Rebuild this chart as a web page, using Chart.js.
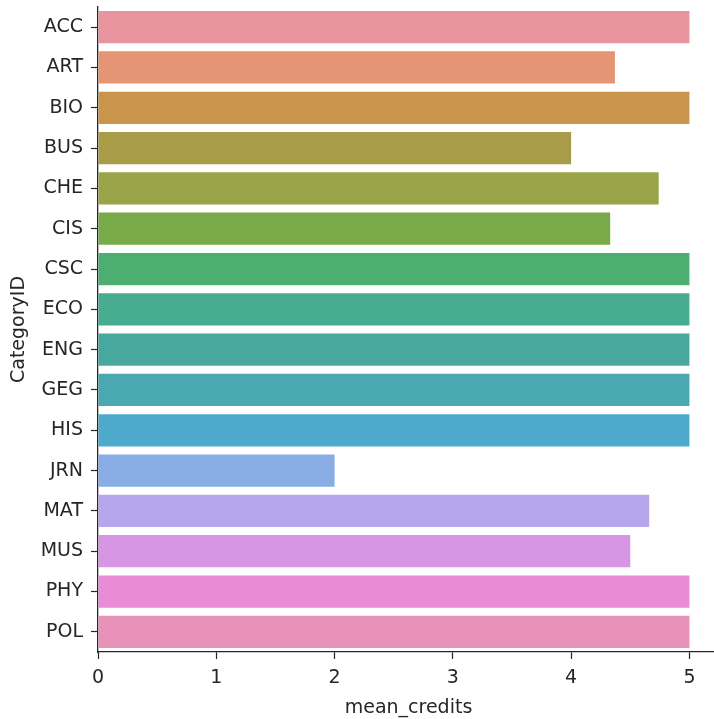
<!DOCTYPE html>
<html>
<head>
<meta charset="utf-8">
<script src="https://cdn.jsdelivr.net/npm/chart.js@4/dist/chart.umd.min.js"></script>
<style>
  html, body { margin: 0; padding: 0; background: #fff; overflow: hidden; }
  #wrap { position: absolute; left: 0; top: 0; width: 719px; height: 719px; }
</style>
</head>
<body>
<div id="wrap"><canvas id="c" width="719" height="719"></canvas></div>
<script>
const categories = ["ACC","ART","BIO","BUS","CHE","CIS","CSC","ECO","ENG","GEG","HIS","JRN","MAT","MUS","PHY","POL"];
const meanCredits = [5, 4.37, 5, 4, 4.74, 4.33, 5, 5, 5, 5, 5, 2, 4.66, 4.5, 5, 5];
const barColors = ["#e8949e","#e69574","#c9944c","#a99c48","#9aa348","#78aa4a","#4cae70","#48ac90","#48a8a0","#4aa8b0","#4eaacc","#88ace4","#b6a6ec","#d696e4","#e88cd6","#e892ba"];
const xTicks = [0, 1, 2, 3, 4, 5];
const xMax = 5.25;
const xTitle = "mean_credits";
const yTitle = "CategoryID";

const fontFamily = "'DejaVu Sans', sans-serif";
const ink = "#262626";
const fs = 19;

new Chart(document.getElementById("c"), {
  type: "bar",
  data: {
    labels: categories,
    datasets: [{
      data: meanCredits,
      backgroundColor: barColors,
      borderWidth: 0,
      barPercentage: 0.8,
      categoryPercentage: 1.0
    }]
  },
  options: {
    indexAxis: "y",
    responsive: false,
    animation: false,
    devicePixelRatio: 1,
    layout: { padding: { top: 7, right: 0, left: 0, bottom: 0 } },
    plugins: { legend: { display: false }, tooltip: { enabled: false } },
    scales: {
      x: {
        type: "linear",
        min: 0,
        max: xMax,
        afterBuildTicks: (s) => { s.ticks = xTicks.map(v => ({ value: v })); },
        afterFit: (s) => { s.height = 67; s.paddingLeft = 0; s.paddingRight = 0; },
        grid: { display: true, drawOnChartArea: false, tickLength: 7, tickColor: ink, tickWidth: 1.2 },
        border: { display: true, color: ink, width: 1.3 },
        ticks: { color: ink, font: { family: fontFamily, size: fs }, padding: 8, maxRotation: 0 },
        title: { display: true, text: xTitle, color: ink, font: { family: fontFamily, size: fs }, padding: { top: 0, bottom: 0 } }
      },
      y: {
        type: "category",
        offset: true,
        afterFit: (s) => { s.width = 98; s.paddingTop = 0; s.paddingBottom = 0; },
        grid: { display: true, drawOnChartArea: false, tickLength: 7, tickColor: ink, tickWidth: 1.2, offset: false },
        border: { display: true, color: ink, width: 1.3 },
        ticks: { color: ink, font: { family: fontFamily, size: fs }, padding: 8, autoSkip: false },
        title: { display: true, text: yTitle, color: ink, font: { family: fontFamily, size: fs }, padding: { top: 8, bottom: 0 } }
      }
    }
  }
});
</script>
</body>
</html>
